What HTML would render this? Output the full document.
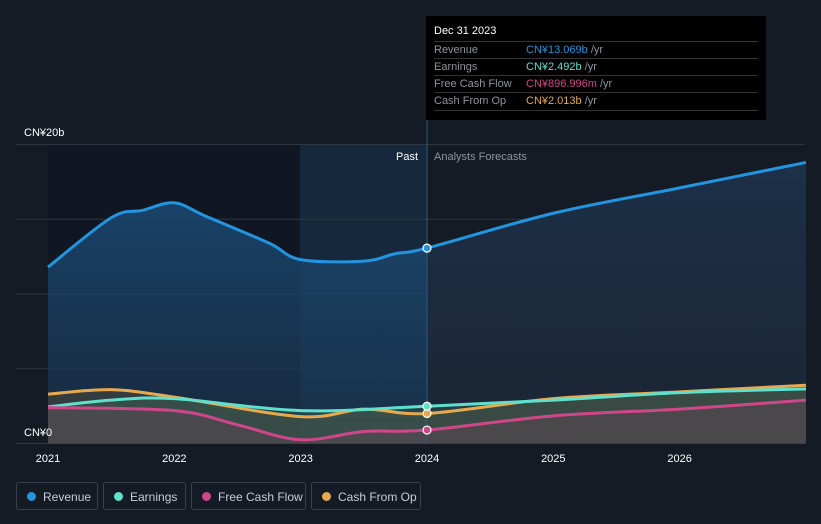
<!DOCTYPE html>
<html><head><meta charset="utf-8"><style>
body{margin:0;background:#151b24;font-family:"Liberation Sans",sans-serif;}
#wrap{position:relative;width:821px;height:524px;overflow:hidden;background:#151b24}
svg text{font-family:"Liberation Sans",sans-serif}
.leg{position:absolute;top:482px;height:28px;border:1px solid #3a404b;border-radius:3px;color:#c8ccd3;font-size:12px;line-height:28px;box-sizing:border-box;padding-left:26px}
.leg i{position:absolute;left:10px;top:9px;width:9px;height:9px;border-radius:50%}
#tip{position:absolute;left:426px;top:16px;width:340px;height:104px;background:#000;color:#8e949d;font-size:11px}
#tip .r{position:absolute;left:8px;width:324px;height:17px;border-top:1px solid #333;line-height:17px}
#tip .r span{position:absolute;left:92px}
</style></head><body>
<div id="wrap">
<svg id="chart" width="821" height="524"></svg>
<div id="tip">
 <div style="position:absolute;left:8px;top:9px;color:#fff;font-size:11px">Dec 31 2023</div>
 <div class="r" style="top:25px">Revenue<span style="color:#2394e0">CN¥13.069b <b style="font-weight:normal;color:#8e949d">/yr</b></span></div>
 <div class="r" style="top:42px">Earnings<span style="color:#5fe0cc">CN¥2.492b <b style="font-weight:normal;color:#8e949d">/yr</b></span></div>
 <div class="r" style="top:59px">Free Cash Flow<span style="color:#d0468a">CN¥896.996m <b style="font-weight:normal;color:#8e949d">/yr</b></span></div>
 <div class="r" style="top:76px;border-bottom:1px solid #333">Cash From Op<span style="color:#e8a94e">CN¥2.013b <b style="font-weight:normal;color:#8e949d">/yr</b></span></div>
</div>
<div class="leg" style="left:16px;width:82px"><i style="background:#2394e0"></i>Revenue</div>
<div class="leg" style="left:103px;width:83px"><i style="background:#5fe0cc"></i>Earnings</div>
<div class="leg" style="left:191px;width:115px"><i style="background:#d0468a"></i>Free Cash Flow</div>
<div class="leg" style="left:311px;width:110px"><i style="background:#e8a94e"></i>Cash From Op</div>
</div>
<script>
const revYears=[2021,2021.5,2021.75,2022,2022.25,2022.75,2023,2023.5,2023.75,2024,2025,2026,2027];
const revenue=[11.8,15.1,15.6,16.1,15.2,13.4,12.3,12.2,12.7,13.07,15.4,17.1,18.8];
const earnYears=[2021,2021.5,2022,2023,2024,2025,2026,2027];
const earnings=[2.45,2.9,3.0,2.2,2.49,2.9,3.4,3.65];
const fcfYears=[2021,2022,2022.5,2023,2023.5,2024,2025,2026,2027];
const fcf=[2.4,2.2,1.25,0.25,0.8,0.9,1.85,2.3,2.9];
const cfoYears=[2021,2021.5,2022,2023,2023.5,2024,2025,2026,2027];
const cfo=[3.3,3.6,3.1,1.8,2.3,2.01,3.0,3.45,3.9];
const xTicks=[2021,2022,2023,2024,2025,2026];
const yGrid=[0,5,10,15,20];
const NS="http://www.w3.org/2000/svg",svg=document.getElementById('chart');
const X=y=>48+(y-2021)*126.33, Y=v=>443.5-v*14.95;
function mk(t,a,p){const e=document.createElementNS(NS,t);for(const k in a)e.setAttribute(k,a[k]);(p||svg).appendChild(e);return e;}
function path(xs,vs){const p=xs.map((x,i)=>[X(x),Y(vs[i])]);let d=`M${p[0][0]},${p[0][1]}`;
for(let i=0;i<p.length-1;i++){const p0=p[i-1]||p[i],p1=p[i],p2=p[i+1],p3=p[i+2]||p2;
d+=` C${p1[0]+(p2[0]-p0[0])/6},${p1[1]+(p2[1]-p0[1])/6} ${p2[0]-(p3[0]-p1[0])/6},${p2[1]-(p3[1]-p1[1])/6} ${p2[0]},${p2[1]}`;}return d;}
const defs=mk('defs',{});
defs.innerHTML='<linearGradient id="gp" x1="0" y1="0" x2="0" y2="1"><stop offset="0" stop-color="#1b4e7a" stop-opacity="0.9"/><stop offset="1" stop-color="#1a3550" stop-opacity="0.6"/></linearGradient><linearGradient id="gf" x1="0" y1="0" x2="0" y2="1"><stop offset="0" stop-color="#1c3048"/><stop offset="1" stop-color="#1b2533"/></linearGradient><clipPath id="cp"><rect x="0" y="0" width="427" height="524"/></clipPath><clipPath id="cf"><rect x="427" y="0" width="400" height="524"/></clipPath>';
let r=mk('rect',{x:48,y:145,width:379,height:299,fill:'#111722'});
r=mk('rect',{x:300,y:145,width:127,height:299,fill:'#16283b'});
yGrid.forEach(v=>{const l=mk('line',{x1:16,x2:805,y1:Y(v),y2:Y(v),stroke:'#2e3541','stroke-width':1});});
const rp=path(revYears,revenue),bottom=` L${X(2027)},${Y(0)} L${X(2021)},${Y(0)} Z`;
let a=mk('path',{d:rp+bottom,fill:'url(#gp)','clip-path':'url(#cp)'});
a=mk('path',{d:rp+bottom,fill:'url(#gf)','clip-path':'url(#cf)'});
const ser=[[cfoYears,cfo,'#e8a94e','cfo','rgba(90,80,60,0.45)'],[earnYears,earnings,'#5fe0cc','earnings','rgba(60,110,90,0.35)'],[fcfYears,fcf,'#d0468a','fcf','rgba(110,70,90,0.35)']];
ser.forEach(s=>{const d=path(s[0],s[1]);const f=mk('path',{d:d+bottom,fill:s[4]});});
const lines=[[revYears,revenue,'#2394e0','revenue'],...ser];
lines.forEach(s=>{const l=mk('path',{d:path(s[0],s[1]),fill:'none',stroke:s[2],'stroke-width':3});});
let dv=mk('line',{x1:427,x2:427,y1:120,y2:444,stroke:'#2c5a80','stroke-width':1});
lines.forEach(s=>{const i=s[0].indexOf(2024);const c=mk('circle',{cx:X(2024),cy:Y(s[1][i]),r:4,fill:s[2],stroke:'#fff','stroke-width':1.2});});
function txt(x,y,s,o){const t=mk('text',Object.assign({x,y,fill:'#fff','font-size':11},o||{}));t.textContent=s;return t;}
let t=txt(24,136,'CN¥20b');
t=txt(24,436,'CN¥0');
t=txt(418,160,'Past',{'text-anchor':'end'});
t=txt(434,160,'Analysts Forecasts',{fill:'#8e949d'});
xTicks.forEach(y=>{const k=txt(X(y),462,String(y),{'text-anchor':'middle'});});
</script>
</body></html>
